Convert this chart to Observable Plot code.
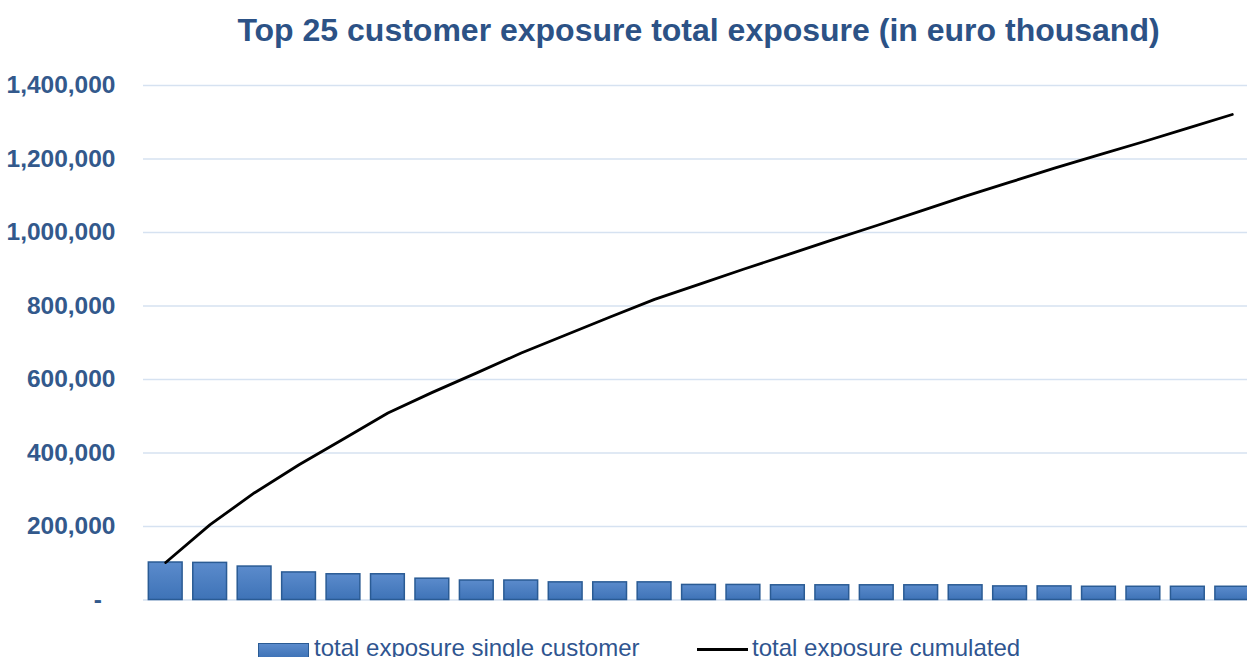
<!DOCTYPE html>
<html>
<head>
<meta charset="utf-8">
<script src="https://cdn.jsdelivr.net/npm/d3@7"></script>
<script src="https://cdn.jsdelivr.net/npm/@observablehq/plot@0.6"></script>
<style>
  html, body { margin: 0; padding: 0; background: #fff; }
  body { width: 1247px; height: 657px; overflow: hidden; position: relative; font-family: "Liberation Sans", Arial, sans-serif; }
  #title { position: absolute; left: 143px; width: 1111px; top: 13px; text-align: center; font-size: 32px; font-weight: bold; color: #2c5286; white-space: nowrap; line-height: 1.1; }
  #chart { position: absolute; left: 0; top: 65px; }
  .leg { position: absolute; font-size: 24px; color: #2f5590; white-space: nowrap; line-height: 1; }
  .sw-bar { position: absolute; width: 51px; height: 16px; background: linear-gradient(#5b8bcc, #3d72b6); border: 1.5px solid #2a5b94; box-sizing: border-box; }
  .sw-line { position: absolute; width: 51px; height: 3px; background: #000; }
</style>
</head>
<body>
<div id="title">Top 25 customer exposure total exposure (in euro thousand)</div>
<div id="chart"></div>
<div class="sw-bar" style="left:258px; top:643px;"></div>
<div class="leg" style="left:314px; top:636px;">total exposure single customer</div>
<div class="sw-line" style="left:697px; top:648px;"></div>
<div class="leg" style="left:752px; top:636px;">total exposure cumulated</div>
<script>
const customers = ["1","2","3","4","5","6","7","8","9","10","11","12","13","14","15","16","17","18","19","20","21","22","23","24","25"];
const singleExposure = [102000, 101000, 91000, 75000, 70000, 70000, 58000, 53000, 53000, 48000, 48000, 48000, 41000, 41000, 40000, 40000, 40000, 40000, 40000, 37000, 37000, 36000, 36000, 36000, 36000];
const cumulatedExposure = [102000, 205000, 292000, 368000, 438000, 509000, 565000, 618000, 672000, 721000, 770000, 818000, 859000, 900000, 940000, 980000, 1019000, 1059000, 1099000, 1137000, 1175000, 1211000, 1247000, 1284000, 1321000];
const yTicks = [0, 200000, 400000, 600000, 800000, 1000000, 1200000, 1400000];

const rows = customers.map((c, i) => ({customer: c, single: singleExposure[i], cum: cumulatedExposure[i]}));
const fmt = d3.format(",");

const plot = Plot.plot({
  width: 1247,
  height: 560,
  marginLeft: 143,
  marginRight: 0,
  marginTop: 20,
  marginBottom: 25.5,
  style: {fontFamily: "'Liberation Sans', Arial, sans-serif", overflow: "visible"},
  x: {type: "band", domain: customers, range: [143, 1254], paddingInner: 0.24, paddingOuter: 0.12, round: false, axis: null},
  y: {domain: [0, 1400000], axis: null},
  marks: [
    Plot.ruleY(yTicks, {stroke: "#d6e2f1", strokeWidth: 1.5}),
    Plot.axisY(yTicks, {
      tickSize: 0,
      tickPadding: 28,
      fontSize: 24.5,
      fontWeight: "bold",
      fill: "#33598c",
      tickFormat: d => d === 0 ? "-  " : fmt(d),
      label: null
    }),
    Plot.barY(rows, {x: "customer", y: "single", fill: "url(#barGrad)", stroke: "#2a5b94", strokeWidth: 1.5}),
    Plot.line(rows, {x: "customer", y: "cum", stroke: "#000", strokeWidth: 2.8})
  ]
});

const svg = d3.select(plot);
const defs = svg.insert("defs", ":first-child");
const g = defs.append("linearGradient").attr("id", "barGrad").attr("x1", 0).attr("y1", 0).attr("x2", 0).attr("y2", 1);
g.append("stop").attr("offset", "0%").attr("stop-color", "#5b8bcc");
g.append("stop").attr("offset", "100%").attr("stop-color", "#3e73b7");

document.getElementById("chart").appendChild(plot);
</script>
</body>
</html>
